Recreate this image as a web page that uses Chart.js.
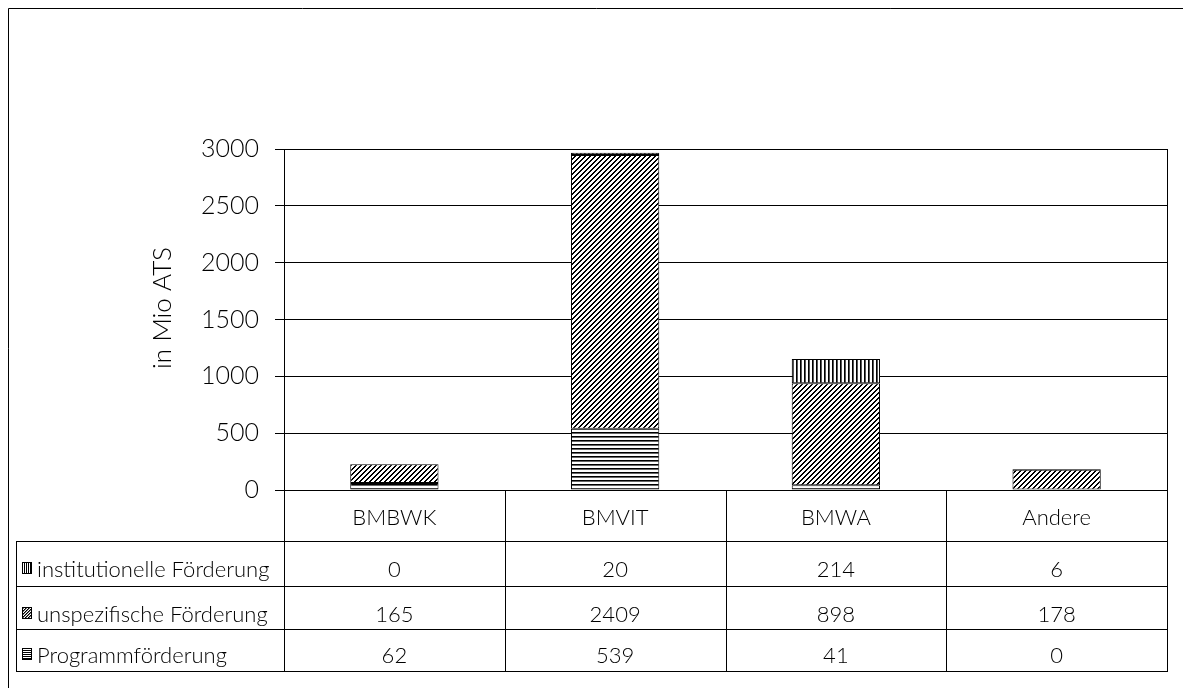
<!DOCTYPE html>
<html>
<head>
<meta charset="utf-8">
<script src="https://cdn.jsdelivr.net/npm/chart.js@4"></script>
<style>
  html, body { margin: 0; padding: 0; background: #fff; }
  #wrap { width: 1183px; height: 688px; }
</style>
</head>
<body>
<div id="wrap"><canvas id="c" width="1183" height="688"></canvas></div>
<script>
// Forschungsförderung nach Ressort, in Mio ATS
const categories = ['BMBWK', 'BMVIT', 'BMWA', 'Andere'];
const programmFoerderung = [62, 539, 41, 0];
const unspezifischeFoerderung = [165, 2409, 898, 178];
const institutionelleFoerderung = [0, 20, 214, 6];
const yTicks = [0, 500, 1000, 1500, 2000, 2500, 3000];
const axisTitle = 'in Mio ATS';

const FONT = 'Lato, "Open Sans", sans-serif';
const WEIGHT = '300';

// Monochrome fill patterns built pixel by pixel; ink(x, y) returns a grey level or null
function makePattern(w, h, ink) {
  const tile = document.createElement('canvas');
  tile.width = w; tile.height = h;
  const t = tile.getContext('2d');
  t.fillStyle = '#fff';
  t.fillRect(0, 0, w, h);
  for (let y = 0; y < h; y++) {
    for (let x = 0; x < w; x++) {
      const c = ink(x, y);
      if (c) { t.fillStyle = c; t.fillRect(x, y, 1, 1); }
    }
  }
  return document.createElement('canvas').getContext('2d').createPattern(tile, 'repeat');
}
const patHorizontal = makePattern(4, 4, (x, y) => y === 0 ? '#000' : (y === 1 ? '#666' : null));
const patDiagonal = makePattern(5, 5, (x, y) => ((x + y) % 5) < 2 ? '#000' : null);
const patVertical = makePattern(4, 4, (x, y) => x === 0 ? '#000' : (x === 1 ? '#555' : null));
// denser variants for the small key boxes
const keyHorizontal = makePattern(2, 2, (x, y) => y === 0 ? '#000' : null);
const keyDiagonal = makePattern(3, 3, (x, y) => ((x + y) % 3) < 1 ? '#000' : (((x + y) % 3) === 1 ? '#777' : null));
const keyVertical = makePattern(2, 2, (x, y) => x === 0 ? '#000' : null);

// Rows of the data table (top to bottom)
const tableRows = [
  { label: 'institutionelle Förderung', values: institutionelleFoerderung, key: keyVertical },
  { label: 'unspezifische Förderung', values: unspezifischeFoerderung, key: keyDiagonal },
  { label: 'Programmförderung', values: programmFoerderung, key: keyHorizontal }
];

function crisp(v) { return Math.round(v) + 0.5; }

const dataTablePlugin = {
  id: 'dataTable',
  afterDraw(chart) {
    const ctx = chart.ctx;
    const area = chart.chartArea;
    const xs = chart.scales.x;
    const n = categories.length;
    const colW = (area.right - area.left) / n;
    const tableLeft = 16;
    const headerTop = area.bottom;
    const rowLines = [area.bottom + 51, area.bottom + 96, area.bottom + 139, area.bottom + 181];
    const baselines = [area.bottom + 87, area.bottom + 132, area.bottom + 173];

    ctx.save();
    ctx.strokeStyle = '#000';
    ctx.lineWidth = 1;

    // outer frame
    ctx.beginPath();
    ctx.moveTo(8.5, 700); ctx.lineTo(8.5, 8.5); ctx.lineTo(1200, 8.5);
    ctx.stroke();

    // right edge of the plot area
    ctx.beginPath();
    ctx.moveTo(crisp(area.right), area.top); ctx.lineTo(crisp(area.right), area.bottom);
    ctx.stroke();

    // horizontal table lines
    ctx.beginPath();
    rowLines.forEach(y => {
      ctx.moveTo(tableLeft, crisp(y));
      ctx.lineTo(area.right + 1, crisp(y));
    });
    // vertical table lines
    ctx.moveTo(crisp(tableLeft), crisp(rowLines[0])); ctx.lineTo(crisp(tableLeft), crisp(rowLines[3]) + 0.5);
    for (let i = 0; i <= n; i++) {
      const x = crisp(area.left + i * colW);
      ctx.moveTo(x, headerTop); ctx.lineTo(x, crisp(rowLines[3]) + 0.5);
    }
    ctx.stroke();

    // column headers and values
    ctx.fillStyle = '#000';
    ctx.textAlign = 'center';
    ctx.textBaseline = 'alphabetic';
    ctx.font = WEIGHT + ' 22px ' + FONT;
    categories.forEach((c, i) => {
      const cx = xs.getPixelForValue(i);
      ctx.fillText(c, cx, headerTop + 35);
      tableRows.forEach((r, k) => {
        ctx.fillText(String(r.values[i]), cx, baselines[k]);
      });
    });

    // row labels with pattern keys
    ctx.textAlign = 'left';
    tableRows.forEach((r, k) => {
      const base = baselines[k];
      const boxY = Math.round(base - 15);
      ctx.fillStyle = r.key;
      ctx.fillRect(22, boxY, 10, 12);
      ctx.strokeRect(22.5, boxY + 0.5, 9, 11);
      ctx.fillStyle = '#000';
      ctx.fillText(r.label, 37, base);
    });

    // y axis title
    ctx.save();
    ctx.translate(171, 308);
    ctx.rotate(-Math.PI / 2);
    ctx.textAlign = 'center';
    ctx.font = WEIGHT + ' 26px ' + FONT;
    ctx.fillText(axisTitle, 0, 0);
    ctx.restore();

    ctx.restore();
  }
};

const barStyle = {
  borderColor: '#000',
  borderWidth: 1,
  borderSkipped: false,
  barPercentage: 0.4,
  categoryPercentage: 1.0
};

new Chart(document.getElementById('c'), {
  type: 'bar',
  data: {
    labels: categories,
    datasets: [
      Object.assign({ label: 'Programmförderung', data: programmFoerderung, backgroundColor: patHorizontal }, barStyle),
      Object.assign({ label: 'unspezifische Förderung', data: unspezifischeFoerderung, backgroundColor: patDiagonal }, barStyle),
      Object.assign({ label: 'institutionelle Förderung', data: institutionelleFoerderung, backgroundColor: patVertical }, barStyle)
    ]
  },
  options: {
    responsive: false,
    animation: false,
    devicePixelRatio: 1,
    layout: { padding: { left: 0, top: 149, right: 16, bottom: 0 } },
    plugins: {
      legend: { display: false },
      tooltip: { enabled: false },
      title: { display: false }
    },
    scales: {
      x: {
        stacked: true,
        ticks: { display: false },
        grid: { display: false },
        border: { display: true, color: '#000', width: 1 },
        afterFit(s) { s.height = 198; }
      },
      y: {
        stacked: true,
        min: 0,
        max: 3000,
        afterBuildTicks(s) { s.ticks = yTicks.map(v => ({ value: v })); },
        ticks: {
          color: '#000',
          font: { family: FONT, size: 25, weight: WEIGHT },
          padding: 16,
          callback: v => String(v)
        },
        grid: { color: '#000', lineWidth: 1, tickLength: 9, drawTicks: true },
        border: { display: true, color: '#000', width: 1 },
        afterFit(s) { s.width = 284; }
      }
    }
  },
  plugins: [dataTablePlugin]
});
</script>
</body>
</html>
